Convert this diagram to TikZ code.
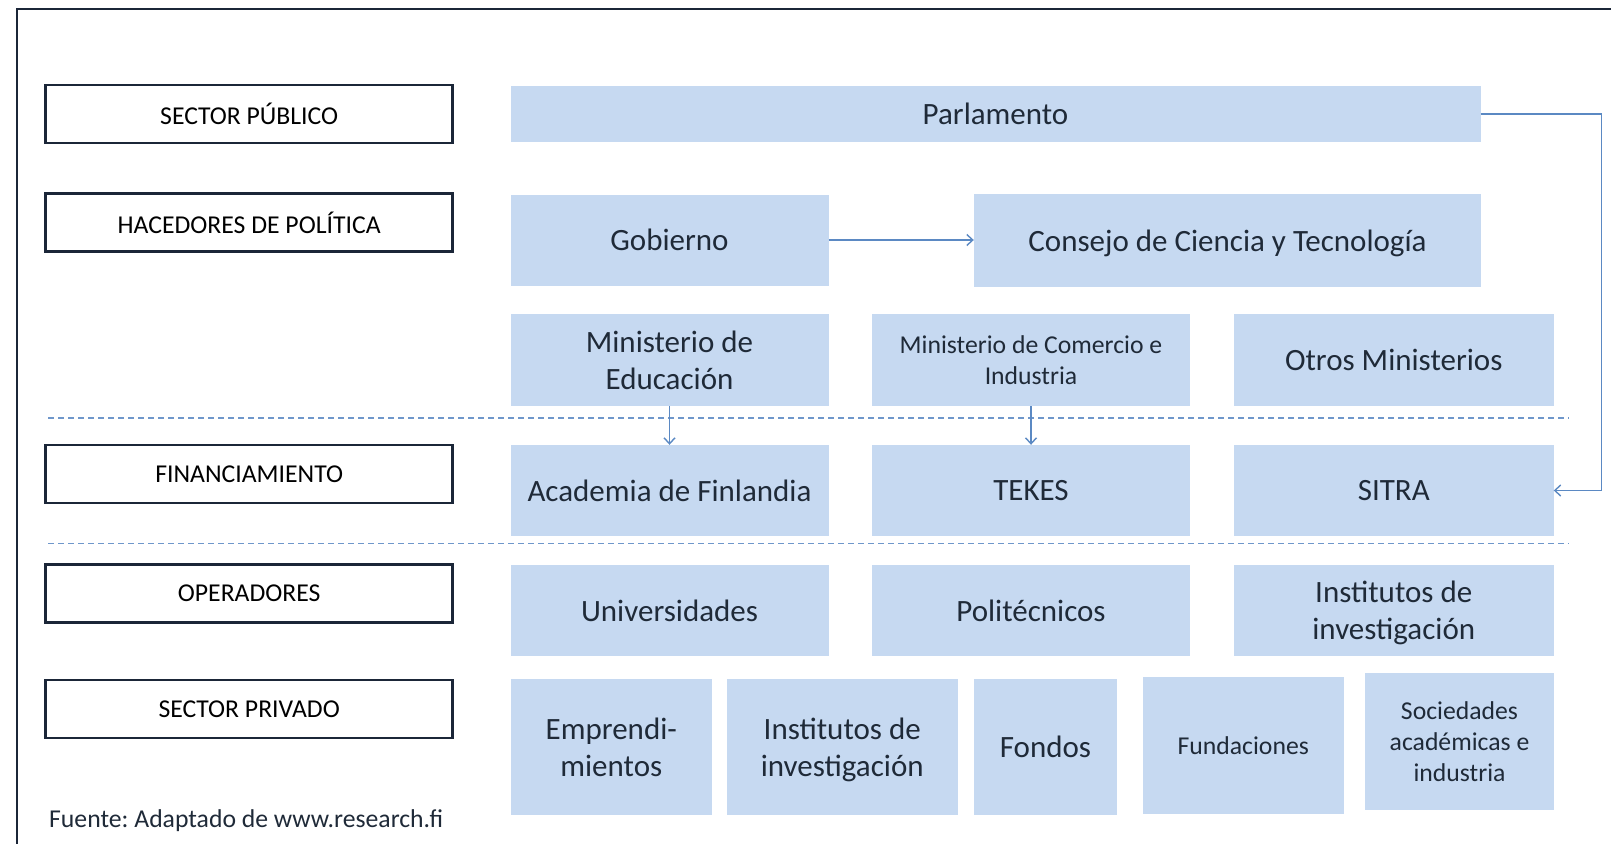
\documentclass[tikz,border=0pt]{standalone}
\usepackage{fontspec}
\setmainfont{Carlito}
\usetikzlibrary{arrows.meta}
\definecolor{boxblue}{HTML}{C6D9F1}
\definecolor{linkblue}{HTML}{5B89C3}
\definecolor{sepblue}{HTML}{6F97CB}
\definecolor{navy}{HTML}{1B2638}
\definecolor{txt}{HTML}{1F2A38}
\frenchspacing
\begin{document}
\begin{tikzpicture}[x=1pt,y=-1pt,
  bbox/.style={fill=boxblue, draw=none, inner sep=0pt, align=center, text=txt,
    text depth=0pt, font=\fontsize{31}{37}\selectfont},
  sbox/.style={bbox, font=\fontsize{25.7}{30.8}\selectfont},
  lowtext/.style={text depth=-5pt},
  lbox/.style={draw=navy, line width=2.5pt, fill=white, inner sep=0pt,
    minimum width=407pt, minimum height=58pt, text=black,
    font=\fontsize{25.7}{30.8}\selectfont},
  frame/.style={draw=navy, line width=2.5pt},
  sepline/.style={draw=sepblue, line width=1.3pt, dash pattern=on 6pt off 4pt},
  link/.style={draw=linkblue, line width=1.4pt, -{Straight Barb[length=6pt,width=11pt]}}
]
\useasboundingbox (0,0) rectangle (1611,843);
\fill[white] (0,0) rectangle (1611,843);
% outer frame (cut off on right and bottom)
\draw[frame] (17,860) -- (17,9) -- (1625,9);

% left labels
\node[lbox] (lpub)  at (249.2,114)   {SECTOR PÚBLICO};
\node[lbox] (lhac)  at (249.2,222.5) {HACEDORES DE POLÍTICA};
\node[lbox] (lfin)  at (249.2,474)   {FINANCIAMIENTO};
\node[lbox] (lope)  at (249.2,593.5) {OPERADORES};
\node[lbox] (lpriv) at (249.2,709)   {SECTOR PRIVADO};

% row 1
\node[bbox, minimum width=970pt, minimum height=56pt] (parl) at (995.5,114) {Parlamento};
% row 2
\node[bbox, lowtext, minimum width=318pt, minimum height=91pt] (gob) at (669.5,240) {Gobierno};
\node[bbox, minimum width=507pt, minimum height=93pt] (consejo) at (1227.5,240.5) {Consejo de Ciencia y Tecnología};
% row 3
\node[bbox, minimum width=318pt, minimum height=92pt] (edu) at (669.5,360) {Ministerio de\\Educación};
\node[sbox, minimum width=318pt, minimum height=92pt] (com) at (1031,360) {Ministerio de Comercio e\\Industria};
\node[bbox, minimum width=319.5pt, minimum height=92pt] (otros) at (1393.75,360) {Otros Ministerios};
% row 4
\node[bbox, lowtext, minimum width=318pt, minimum height=91pt] (acad) at (669.5,490.5) {Academia de Finlandia};
\node[bbox, lowtext, minimum width=318pt, minimum height=91pt] (tekes) at (1031,490.5) {TEKES};
\node[bbox, lowtext, minimum width=319.5pt, minimum height=91pt] (sitra) at (1393.75,490.5) {SITRA};
% row 5
\node[bbox, lowtext, minimum width=318pt, minimum height=91pt] (univ) at (669.5,610.5) {Universidades};
\node[bbox, lowtext, minimum width=318pt, minimum height=91pt] (poli) at (1031,610.5) {Politécnicos};
\node[bbox, lowtext, minimum width=319.5pt, minimum height=91pt] (inst) at (1393.75,610.5) {Institutos de\\investigación};
% row 6
\node[bbox, lowtext, minimum width=201.4pt, minimum height=136pt] (emp) at (611.3,747) {Emprendi-\\mientos};
\node[bbox, lowtext, minimum width=230.5pt, minimum height=136pt] (instp) at (842.25,747) {Institutos de\\investigación};
\node[bbox, lowtext, minimum width=143pt, minimum height=136pt] (fondos) at (1045.5,747) {Fondos};
\node[sbox, minimum width=201.5pt, minimum height=136.7pt] (fund) at (1243.25,745.3) {Fundaciones};
\node[sbox, minimum width=189pt, minimum height=136.7pt] (soc) at (1459.5,741.7) {Sociedades\\académicas e\\industria};

% separators
\draw[sepline] (48,418) -- (1569,418);
\draw[sepline] (48,543.5) -- (1569,543.5);

% connectors
\draw[link] (gob.east) -- (consejo.west |- gob.east);
\draw[link] (edu.south) -- (acad.north);
\draw[link] (com.south) -- (tekes.north);
\draw[link] (parl.east) -- ++(120.5,0) |- (sitra.east);

% source note
\node[anchor=west, inner sep=0pt, text=txt, font=\fontsize{25.7}{30.8}\selectfont] (src) at (49,821) {Fuente: Adaptado de www.research.fi};
\end{tikzpicture}
\end{document}
